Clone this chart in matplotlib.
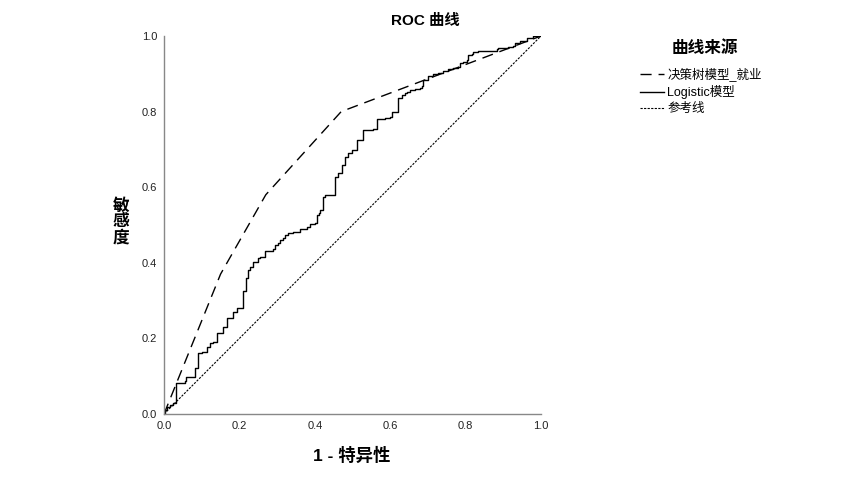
import matplotlib
matplotlib.use("Agg")
import matplotlib.pyplot as plt
from matplotlib.lines import Line2D

plt.rcParams['font.family'] = ['Liberation Sans', 'Noto Sans CJK SC', 'DejaVu Sans']

title = "ROC 曲线"
xlabel = "1 - 特异性"
ylabel = "敏感度"
legend_title = "曲线来源"
series_names = ["决策树模型_就业", "Logistic模型", "参考线"]
ticks = [0.0, 0.2, 0.4, 0.6, 0.8, 1.0]
tick_labels = ["0.0", "0.2", "0.4", "0.6", "0.8", "1.0"]

# Decision tree ROC (piecewise linear)
tree_fpr = [0.0, 0.15, 0.27, 0.47, 1.0]
tree_tpr = [0.0, 0.37, 0.58, 0.80, 1.0]

# Logistic ROC (step curve corners)
log_fpr = [0.000, 0.003, 0.009, 0.016, 0.025, 0.032, 0.056, 0.058, 0.082, 0.091,
           0.100, 0.113, 0.122, 0.131, 0.141, 0.157, 0.168, 0.182, 0.194, 0.209,
           0.218, 0.224, 0.228, 0.237, 0.250, 0.255, 0.268, 0.290, 0.294, 0.303,
           0.308, 0.316, 0.321, 0.330, 0.343, 0.361, 0.378, 0.387, 0.401, 0.405,
           0.412, 0.414, 0.421, 0.427, 0.454, 0.462, 0.471, 0.480, 0.489, 0.498,
           0.511, 0.529, 0.555, 0.564, 0.586, 0.599, 0.604, 0.622, 0.630, 0.639,
           0.644, 0.653, 0.666, 0.679, 0.684, 0.688, 0.701, 0.714, 0.728, 0.741,
           0.754, 0.767, 0.781, 0.785, 0.794, 0.803, 0.807, 0.816, 0.820, 0.834,
           0.882, 0.887, 0.913, 0.927, 0.931, 0.944, 0.962, 0.980, 1.000]
log_tpr = [0.000, 0.011, 0.019, 0.024, 0.028, 0.081, 0.086, 0.099, 0.121, 0.161,
           0.165, 0.178, 0.187, 0.191, 0.213, 0.231, 0.253, 0.271, 0.281, 0.326,
           0.359, 0.381, 0.390, 0.403, 0.412, 0.416, 0.432, 0.436, 0.447, 0.453,
           0.460, 0.466, 0.474, 0.478, 0.482, 0.489, 0.496, 0.503, 0.506, 0.526,
           0.531, 0.540, 0.575, 0.579, 0.628, 0.637, 0.659, 0.681, 0.690, 0.698,
           0.725, 0.751, 0.753, 0.780, 0.782, 0.785, 0.798, 0.835, 0.844, 0.848,
           0.853, 0.857, 0.859, 0.862, 0.868, 0.884, 0.894, 0.899, 0.903, 0.908,
           0.912, 0.915, 0.919, 0.928, 0.932, 0.937, 0.950, 0.952, 0.958, 0.961,
           0.965, 0.967, 0.972, 0.974, 0.981, 0.988, 0.994, 1.000, 1.000]

ref_x = [0.0, 1.0]
ref_y = [0.0, 1.0]

fig = plt.figure(figsize=(8.5, 5), dpi=100)
ax = fig.add_axes([164/850, 1-414/500, 377/850, 378/500])

ax.plot(tree_fpr, tree_tpr, color='black', lw=1.0, dashes=(8, 5))
ax.plot(log_fpr, log_tpr, color='black', lw=1.0, drawstyle='steps-post')
ax.plot(ref_x, ref_y, color='black', lw=0.8, dashes=(2, 1.2))

ax.set_xlim(0, 1)
ax.set_ylim(0, 1)
ax.set_xticks(ticks)
ax.set_xticklabels(tick_labels)
ax.set_yticks(ticks)
ax.set_yticklabels(tick_labels)
ax.tick_params(length=0, labelsize=8, colors='#222222', pad=5)
for s in ['top', 'right']:
    ax.spines[s].set_visible(False)
for s in ['left', 'bottom']:
    ax.spines[s].set_color('#888888')
    ax.spines[s].set_linewidth(1.0)

fig.text(425/850, 1-21/500, title, ha='center', va='center', fontsize=11, fontweight='bold')
fig.text(352/850, 1-455/500, xlabel, ha='center', va='center', fontsize=12.5, fontweight='bold')
fig.text(121/850, 1-222/500, "\n".join(ylabel), ha='center', va='center', fontsize=12,
         fontweight='bold', linespacing=1.0)

fig.text(705/850, 1-48/500, legend_title, ha='center', va='center', fontsize=12, fontweight='bold')
handles = [Line2D([], [], color='black', lw=1.0, dashes=(8, 5)),
           Line2D([], [], color='black', lw=1.0),
           Line2D([], [], color='black', lw=0.8, dashes=(2, 1.2))]
leg = fig.legend(handles, series_names, loc='upper left',
                 bbox_to_anchor=(635/850, 1-62/500), frameon=False, fontsize=9,
                 handlelength=1.9, handletextpad=0.3, labelspacing=0.33,
                 borderaxespad=0.0)

fig.savefig("out.png", dpi=100)
